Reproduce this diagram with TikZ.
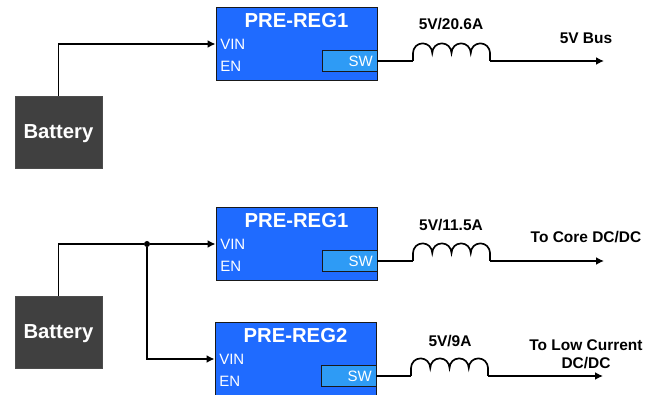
\documentclass[tikz,border=0pt]{standalone}
\usepackage{fontspec}
\setmainfont{Liberation Sans}
\usetikzlibrary{arrows.meta}
\definecolor{regblue}{HTML}{1F6BFF}
\definecolor{swblue}{HTML}{2E9BF5}
\definecolor{batgrey}{HTML}{404040}
\tikzset{
  wire/.style={draw=black,line width=1.25pt},
  feed/.style={wire,-{Latex[length=6pt,width=6pt]}},
  regbox/.style={draw=black!90,fill=regblue,line width=0.7pt,minimum width=120.75pt,minimum height=54.75pt,inner sep=0pt},
  swbox/.style={draw=black!90,fill=swblue,line width=0.7pt,minimum width=41.25pt,minimum height=15.75pt,inner sep=0pt},
  batbox/.style={draw=black!70,fill=batgrey,line width=0.7pt,minimum width=65.25pt,minimum height=54pt,inner sep=0pt},
  regname/.style={text=white,font=\fontsize{15.2}{17}\selectfont\bfseries,inner sep=0pt},
  batname/.style={text=white,font=\fontsize{15.2}{17}\selectfont\bfseries,inner sep=0pt},
  pinname/.style={text=white,font=\fontsize{11.25}{13}\selectfont,inner sep=0pt},
  railname/.style={font=\fontsize{11.6}{13.5}\selectfont\bfseries,inner sep=0pt,align=center},
  jdot/.style={circle,fill=black,minimum size=4.5pt,inner sep=0pt},
  coil/.pic={
    \coordinate (-in) at (0,0);
    \coordinate (-out) at (77,0);
    \draw[wire] (0,0) -- (0,8)
      arc (180:0:9.625) arc (180:0:9.625) arc (180:0:9.625) arc (180:0:9.625) -- (77,0);
  }
}
\begin{document}
\begin{tikzpicture}[x=0.75pt,y=0.75pt]
\useasboundingbox (0,0) rectangle (647,-395);
% top battery and regulator
\node[batbox] (bat1) at (58.5,-132) {};
\node[batname] (batlbl1) at (58.5,-134) {Battery};
\node[regbox] (reg1) at (296.5,-43.5) {};
\node[regname] (reglbl1) at (296.5,-21) {PRE-REG1};
\node[pinname,anchor=west] (vin1) at (220,-44) {VIN};
\node[pinname,anchor=west] (en1) at (220,-66) {EN};
\node[swbox,anchor=east] (sw1) at (reg1.east |- 0,-61) {};
\node[pinname,anchor=east] (swlbl1) at (373,-61) {SW};
% middle regulator
\node[batbox] (bat2) at (58.5,-332) {};
\node[batname] (batlbl2) at (58.5,-334) {Battery};
\node[regbox] (reg2) at (296.5,-243.5) {};
\node[regname] (reglbl2) at (296.5,-221) {PRE-REG1};
\node[pinname,anchor=west] (vin2) at (220,-244) {VIN};
\node[pinname,anchor=west] (en2) at (220,-266) {EN};
\node[swbox,anchor=east] (sw2) at (reg2.east |- 0,-261) {};
\node[pinname,anchor=east] (swlbl2) at (373,-261) {SW};
% bottom regulator
\node[regbox] (reg3) at (295.5,-358.5) {};
\node[regname] (reglbl3) at (295.5,-336) {PRE-REG2};
\node[pinname,anchor=west] (vin3) at (219,-359) {VIN};
\node[pinname,anchor=west] (en3) at (219,-381) {EN};
\node[swbox,anchor=east] (sw3) at (reg3.east |- 0,-376) {};
\node[pinname,anchor=east] (swlbl3) at (372,-376) {SW};
% inductors
\pic (ind1) at (413,-61) {coil};
\pic (ind2) at (413,-261) {coil};
\pic (ind3) at (411,-376) {coil};
% outputs
\coordinate (out1) at (604,-61);
\coordinate (out2) at (604,-261);
\coordinate (out3) at (603,-376);
\draw[wire] (sw1.east) -- (ind1-in);
\draw[wire] (sw2.east) -- (ind2-in);
\draw[wire] (sw3.east) -- (ind3-in);
\draw[feed] (ind1-out) -- (out1);
\draw[feed] (ind2-out) -- (out2);
\draw[feed] (ind3-out) -- (out3);
% inputs
\draw[feed] (bat1.north) |- (reg1.west |- vin1.west);
\node[jdot] (tap) at (147,-244) {};
\draw[wire] (bat2.north) |- (tap);
\draw[feed] (tap) -- (reg2.west |- vin2.west);
\draw[feed] (tap) |- (reg3.west |- vin3.west);
% labels
\node[railname] (rate1) at (451,-24) {5V/20.6A};
\node[railname] (rate2) at (451,-225) {5V/11.5A};
\node[railname] (rate3) at (450,-341) {5V/9A};
\node[railname] (rail1) at (586,-38) {5V Bus};
\node[railname] (rail2) at (586,-237) {To Core DC/DC};
\node[railname] (rail3) at (586,-354) {To Low Current\\DC/DC};
\end{tikzpicture}
\end{document}
